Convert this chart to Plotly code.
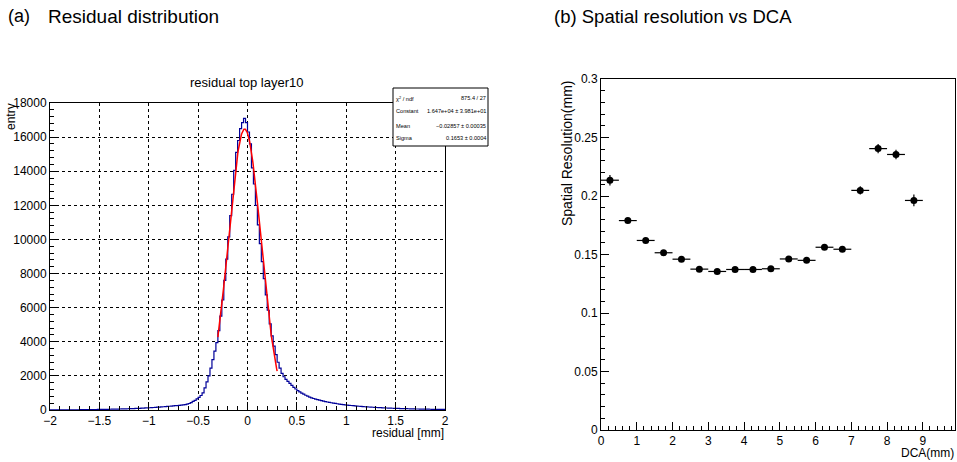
import numpy as np
import plotly.graph_objects as go

W, H = 957, 462

# ---------------- data: residual histogram (200 bins, -2..2) ----------------
hist_lo, hist_hi, n_bins = -2.0, 2.0, 200
counts_left_tail = [
    6, 5, 7, 8, 7, 9, 10, 9, 11, 12,
    13, 12, 15, 16, 15, 18, 19, 21, 20, 23,
    25, 27, 26, 30, 32, 31, 35, 37, 39, 41,
    44, 46, 49, 52, 55, 58, 62, 65, 69, 73,
    77, 81, 86, 90, 95, 101, 106, 112, 119, 126,
    133, 140, 148, 156, 164, 172, 181, 190, 199, 209,
    219, 229, 240, 251, 262, 275, 289, 304, 320, 340,
    380, 430, 500, 570, 650,
]
counts_core = [
    740, 850, 1000, 1300, 1650, 2000, 2450, 2950, 3450, 3950,
    4650, 5500, 6450, 7600, 8850, 10150, 11400, 12650, 14050, 15100,
    15800, 16500, 16850, 17100, 16850,
    16300, 15600, 14200, 13250, 12000, 10850, 9750, 8700, 7700, 6750,
    5850, 5050, 4350, 3750, 3250, 2800, 2450, 2150, 1950, 1800,
]
counts_right_tail = [
    1680, 1560, 1440, 1330, 1230, 1140, 1060, 990, 925, 865,
    810, 760, 715, 675, 640, 605, 575, 545, 518, 492,
    468, 445, 424, 404, 385, 367, 350, 334, 318, 303,
    289, 276, 263, 251, 240, 229, 219, 209, 200, 191,
    183, 175, 167, 160, 153, 146, 140, 134, 128, 123,
    117, 112, 107, 103, 98, 94, 90, 86, 82, 79,
    75, 72, 69, 66, 63, 60, 58, 55, 53, 50,
    48, 46, 44, 42, 40, 38, 37, 35, 33, 32,
]
counts = counts_left_tail + counts_core + counts_right_tail

# Gaussian fit parameters (from the stats box)
fit_const, fit_mean, fit_sigma = 1.647e4, -0.02857, 0.1653
fit_range = (-0.3, 0.3)
stats_names = ["χ<sup>2</sup> / ndf", "Constant", "Mean", "Sigma"]
stats_values = ["875.4 / 27", "1.647e+04 ± 3.981e+01", "−0.02857 ± 0.00035", "0.1653 ± 0.0004"]

# ---------------- data: spatial resolution vs DCA ----------------
dca = [0.25, 0.75, 1.25, 1.75, 2.25, 2.75, 3.25, 3.75, 4.25, 4.75,
       5.25, 5.75, 6.25, 6.75, 7.25, 7.75, 8.25, 8.75]
dca_err = [0.25] * 18
resolution = [0.2135, 0.179, 0.162, 0.1515, 0.146, 0.1375, 0.1355, 0.1372, 0.1372, 0.1378,
              0.1462, 0.145, 0.1562, 0.1545, 0.2048, 0.2405, 0.2355, 0.1962]
resolution_err = [0.0045, 0.002, 0.002, 0.002, 0.002, 0.002, 0.002, 0.002, 0.002, 0.002,
                  0.002, 0.002, 0.002, 0.002, 0.0035, 0.004, 0.004, 0.005]

# ---------------- helpers ----------------
def px(x):
    return x / W

def py(y):
    return 1 - y / H

FONT = "Liberation Sans, Arial, Helvetica, sans-serif"

edges = np.linspace(hist_lo, hist_hi, n_bins + 1)
step_y = list(counts) + [counts[-1]]

xf = np.linspace(fit_range[0], fit_range[1], 200)
yf = fit_const * np.exp(-0.5 * ((xf - fit_mean) / fit_sigma) ** 2)

fig = go.Figure()
fig.add_trace(go.Scatter(x=edges, y=step_y, mode="lines", line=dict(color="#000099", width=1.2, shape="hv"),
                         xaxis="x", yaxis="y", showlegend=False, hoverinfo="skip"))
fig.add_trace(go.Scatter(x=xf, y=yf, mode="lines", line=dict(color="red", width=1.5),
                         xaxis="x", yaxis="y", showlegend=False, hoverinfo="skip"))
fig.add_trace(go.Scatter(x=dca, y=resolution, mode="markers",
                         marker=dict(color="black", size=7),
                         error_x=dict(type="data", array=dca_err, color="black", thickness=1.2, width=0),
                         error_y=dict(type="data", array=resolution_err, color="black", thickness=1.2, width=0),
                         xaxis="x2", yaxis="y2", showlegend=False))

axis_common = dict(showline=True, linecolor="black", linewidth=1, mirror=True, ticks="inside",
                   tickcolor="black", zeroline=False, automargin=False, tickformat="d",
                   tickfont=dict(family=FONT, size=12, color="black"))

fig.update_layout(
    template="none",
    width=W, height=H, margin=dict(l=0, r=0, t=0, b=0, pad=0), autosize=False,
    paper_bgcolor="white", plot_bgcolor="white",
    xaxis=dict(domain=[px(50), px(445)], range=[-2, 2], anchor="y", tick0=0, dtick=0.5, ticklen=8,
               showgrid=True, gridcolor="black", griddash="dot", gridwidth=1,
               minor=dict(dtick=0.1, tick0=0, ticks="inside", ticklen=4, tickcolor="black", showgrid=False),
               **{**axis_common, "tickformat": ""}),
    yaxis=dict(domain=[py(410), py(103)], range=[0, 18000], anchor="x", tick0=0, dtick=2000, ticklen=8,
               showgrid=True, gridcolor="black", griddash="dot", gridwidth=1,
               minor=dict(dtick=400, tick0=0, ticks="inside", ticklen=4, tickcolor="black", showgrid=False),
               **axis_common),
    xaxis2=dict(domain=[px(601), px(955)], range=[0, 9.9], anchor="y2", tick0=0, dtick=1, ticklen=8,
                showgrid=False,
                minor=dict(dtick=0.2, tick0=0, ticks="inside", ticklen=4, tickcolor="black", showgrid=False),
                **axis_common),
    yaxis2=dict(domain=[py(430), py(79)], range=[0, 0.3], anchor="x2", tick0=0, dtick=0.05, ticklen=8,
                showgrid=False,
                minor=dict(dtick=0.01, tick0=0, ticks="inside", ticklen=4, tickcolor="black", showgrid=False),
                **{**axis_common, "tickformat": ""}),
)

ann = []
def text(x, y, s, size, xanchor="center", yanchor="middle", angle=0, family=FONT):
    ann.append(dict(x=px(x), y=py(y), xref="paper", yref="paper", text=s, showarrow=False,
                    xanchor=xanchor, yanchor=yanchor, textangle=angle, borderpad=0,
                    font=dict(family=family, size=size, color="black")))

text(7, 16, "(a)", 18, xanchor="left")
text(47, 16, "Residual distribution", 19, xanchor="left")
text(553, 16, "(b) Spatial resolution vs DCA", 18.5, xanchor="left")
text(247, 82, "residual top layer10", 13)
text(445, 433, "residual [mm]", 12, xanchor="right")
text(11, 117, "entry", 12, angle=-90)
text(567, 153, "Spatial Resolution(mm)", 14, angle=-90)
text(955, 453, "DCA(mm)", 12, xanchor="right")

rows_y = [98.5, 111.5, 125.5, 138]
for name, val, yy in zip(stats_names, stats_values, rows_y):
    text(395, yy, name, 5.6, xanchor="left")
    text(487, yy, val, 5.6, xanchor="right")
fig.update_layout(annotations=ann)

fig.add_shape(type="rect", xref="paper", yref="paper", x0=px(393), x1=px(488), y0=py(146), y1=py(88),
              line=dict(color="black", width=1), fillcolor="white", layer="above")

fig.write_html("out.html", config={"displayModeBar": False},
               post_script="document.body.style.margin='0';")
